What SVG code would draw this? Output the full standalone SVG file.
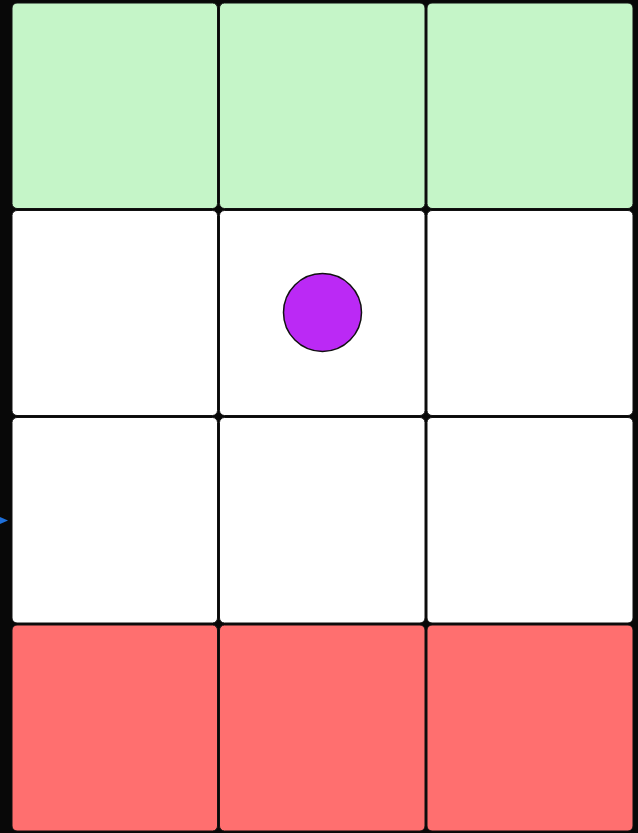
<svg xmlns="http://www.w3.org/2000/svg" width="638" height="833" viewBox="0 0 638 833">
<style>
.cell{stroke:#111;stroke-width:1}
.g{fill:#c5f5c8}
.w{fill:#ffffff}
.r{fill:#ff6f6f}
</style>
<rect x="0" y="0" width="638" height="833" fill="#080808"/>
<g id="row1">
<g id="c11"><rect class="cell g" x="12" y="3" width="205.5" height="205.5" rx="5"/></g>
<g id="c12"><rect class="cell g" x="219.5" y="3" width="205.5" height="205.5" rx="5"/></g>
<g id="c13"><rect class="cell g" x="427" y="3" width="206" height="205.5" rx="5"/></g>
</g>
<g id="row2">
<g id="c21"><rect class="cell w" x="12" y="210.5" width="205.5" height="205" rx="5"/></g>
<g id="c22"><rect class="cell w" x="219.5" y="210.5" width="205.5" height="205" rx="5"/></g>
<g id="c23"><rect class="cell w" x="427" y="210.5" width="206" height="205" rx="5"/></g>
</g>
<g id="row3">
<g id="c31"><rect class="cell w" x="12" y="417.5" width="205.5" height="205.5" rx="5"/></g>
<g id="c32"><rect class="cell w" x="219.5" y="417.5" width="205.5" height="205.5" rx="5"/></g>
<g id="c33"><rect class="cell w" x="427" y="417.5" width="206" height="205.5" rx="5"/></g>
</g>
<g id="row4">
<g id="c41"><rect class="cell r" x="12" y="625" width="205.5" height="206" rx="5"/></g>
<g id="c42"><rect class="cell r" x="219.5" y="625" width="205.5" height="206" rx="5"/></g>
<g id="c43"><rect class="cell r" x="427" y="625" width="206" height="206" rx="5"/></g>
</g>
<g id="token"><circle cx="322.5" cy="312.5" r="39" fill="#bb29f5" stroke="#111" stroke-width="1.5"/></g>
<g id="connectors"><polygon points="0,517 8,520.5 0,524" fill="#1e6fd9"/></g>
</svg>
